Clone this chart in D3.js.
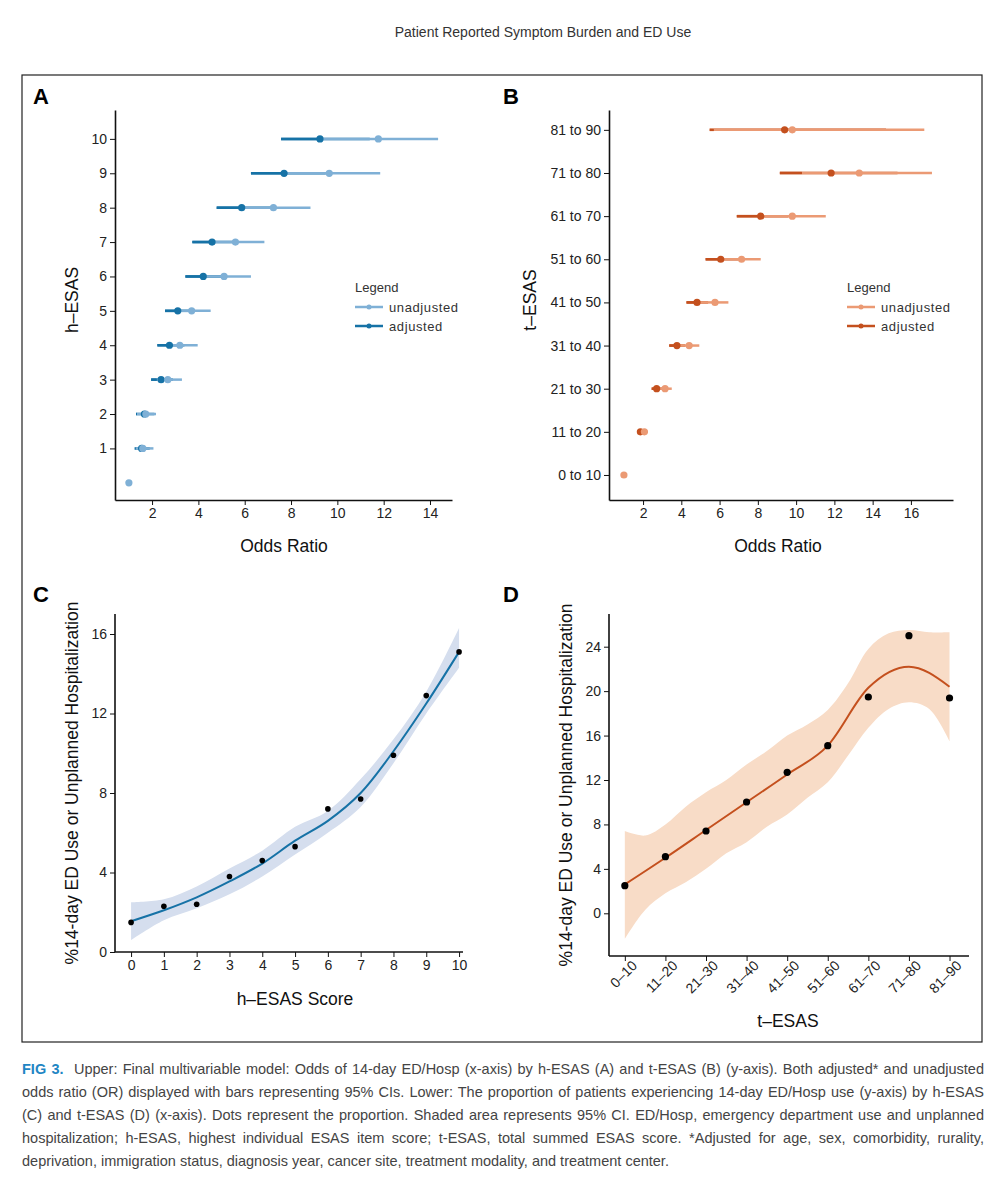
<!DOCTYPE html>
<html><head><meta charset="utf-8">
<script src="https://cdn.jsdelivr.net/npm/d3@7"></script>
<style>
body{margin:0;background:#fff;font-family:"Liberation Sans",Arial,sans-serif;}
#cap{position:absolute;left:22px;top:1058px;width:962px;font-size:14.5px;line-height:23px;color:#444;text-align:justify;}
#cap span.f{color:#1f86c4;font-weight:bold;}
</style></head><body>
<svg id="svg" width="1004" height="1200" style="position:absolute;left:0;top:0"></svg>
<div id="cap"><span class="f">FIG 3.</span>&nbsp; Upper: Final multivariable model: Odds of 14-day ED/Hosp (x-axis) by h-ESAS (A) and t-ESAS (B) (y-axis). Both adjusted* and unadjusted odds ratio (OR) displayed with bars representing 95% CIs. Lower: The proportion of patients experiencing 14-day ED/Hosp use (y-axis) by h-ESAS (C) and t-ESAS (D) (x-axis). Dots represent the proportion. Shaded area represents 95% CI. ED/Hosp, emergency department use and unplanned hospitalization; h-ESAS, highest individual ESAS item score; t-ESAS, total summed ESAS score. *Adjusted for age, sex, comorbidity, rurality, deprivation, immigration status, diagnosis year, cancer site, treatment modality, and treatment center.</div>
<script>
// Panel A data (h-ESAS 0..10; 0 = reference)
const hLevels = [0,1,2,3,4,5,6,7,8,9,10];
const hUnadj   = [1.0,1.6,1.73,2.68,3.2,3.71,5.11,5.6,7.24,9.65,11.77];
const hUnadjLo = [null,1.25,1.35,2.2,2.6,3.1,4.2,4.6,6.0,7.8,9.3];
const hUnadjHi = [null,2.06,2.17,3.29,3.97,4.53,6.27,6.85,8.84,11.85,14.35];
const hAdj     = [null,1.55,1.67,2.39,2.75,3.11,4.21,4.59,5.87,7.7,9.25];
const hAdjLo   = [null,1.3,1.31,1.96,2.23,2.56,3.44,3.74,4.79,6.27,7.57];
const hAdjHi   = [null,1.9,2.1,2.9,3.4,3.8,5.2,5.7,7.3,9.5,11.4];
// Panel B data (t-ESAS groups)
const tGroups = ["0 to 10","11 to 20","21 to 30","31 to 40","41 to 50","51 to 60","61 to 70","71 to 80","81 to 90"];
const tUnadj   = [1.0,2.07,3.15,4.41,5.76,7.15,9.8,13.3,9.8];
const tUnadjLo = [null,1.8,2.7,3.8,4.9,6.1,8.2,10.3,5.48];
const tUnadjHi = [null,2.25,3.5,4.94,6.46,8.15,11.55,17.1,16.7];
const tAdj     = [null,1.86,2.71,3.77,4.82,6.06,8.15,11.83,9.4];
const tAdjLo   = [null,1.7,2.45,3.37,4.27,5.27,6.9,9.15,5.7];
const tAdjHi   = [null,2.05,3.0,4.2,5.4,7.0,9.6,15.3,14.7];
// Panel C data
const cScores = [0,1,2,3,4,5,6,7,8,9,10];
const cProp = [1.49,2.3,2.4,3.8,4.6,5.3,7.2,7.7,9.9,12.9,15.1];
const cFit  = [1.55,2.1,2.75,3.55,4.45,5.6,6.6,8.0,10.1,12.5,15.1];
const cLo   = [0.6,1.6,2.2,2.9,3.8,4.9,6.0,7.3,9.5,12.0,14.3];
const cHi   = [2.5,2.65,3.3,4.2,5.1,6.3,7.1,8.7,10.7,13.1,16.3];
// Panel D data
const dGroups = ["0–10","11–20","21–30","31–40","41–50","51–60","61–70","71–80","81–90"];
const dProp = [2.49,5.1,7.41,10.02,12.69,15.09,19.47,24.99,19.38];
const dFit  = [2.6,5.0,7.5,10.0,12.5,15.1,20.3,22.2,20.4];
const dBandPos = [0,0.5,1,1.5,2,2.5,3,3.5,4,4.5,5,5.5,6,6.5,7,7.5,8];
const dHi = [7.4,7.0,8.0,9.6,10.9,12.0,13.4,14.6,16.0,17.0,18.3,20.7,23.8,25.2,25.5,25.3,25.3];
const dLo = [-2.3,0.3,1.8,2.8,4.0,5.4,6.4,7.8,8.9,10.4,11.8,14.2,16.7,18.4,19.0,18.4,15.5];

const svg = d3.select("#svg");
const F = '"Liberation Sans",Arial,sans-serif';
svg.append("text").attr("x",543).attr("y",37).attr("text-anchor","middle").attr("font-size",14).attr("fill","#333").attr("font-family",F).text("Patient Reported Symptom Burden and ED Use");
svg.append("rect").attr("x",22).attr("y",75).attr("width",960).attr("height",967).attr("fill","none").attr("stroke","#222").attr("stroke-width",1.2);
[["A",33,104],["B",503,104],["C",33,602],["D",503,602]].forEach(([t,x,y])=>svg.append("text").attr("x",x).attr("y",y).attr("font-size",22).attr("font-weight","bold").attr("font-family",F).text(t));

function styleAxis(g){g.selectAll("path").attr("stroke","#111").attr("stroke-width",1.6);g.selectAll("line").attr("stroke","#111");g.selectAll("text").attr("font-size",14).attr("font-family",F).attr("fill","#222");}
function label(x,y,t,rot){const e=svg.append("text").attr("font-size",17.5).attr("font-family",F).attr("text-anchor","middle").attr("fill","#111").text(t);
 if(rot) e.attr("transform",`translate(${x},${y}) rotate(-90)`); else e.attr("x",x).attr("y",y);}

function forest(o){
 const x=d3.scaleLinear().domain(o.xd).range([o.x0,o.x1]);
 const y=d3.scaleLinear().domain(o.yd).range([o.y1,o.y0]);
 const g=svg.append("g");
 g.append("g").attr("transform",`translate(0,${o.y1})`).call(d3.axisBottom(x).tickValues(o.xt).tickSize(5).tickSizeOuter(0)).call(styleAxis);
 g.append("g").attr("transform",`translate(${o.x0},0)`).call(d3.axisLeft(y).tickValues(o.yt).tickFormat(o.yf).tickSize(5).tickSizeOuter(0)).call(styleAxis);
 o.cat.forEach((c,i)=>{
  const yy=y(i);
  if(o.alo[i]!=null) g.append("line").attr("x1",x(o.alo[i])).attr("x2",x(o.ahi[i])).attr("y1",yy).attr("y2",yy).attr("stroke",o.dark).attr("stroke-width",2.5);
  if(o.ulo[i]!=null) g.append("line").attr("x1",x(o.ulo[i])).attr("x2",x(o.uhi[i])).attr("y1",yy).attr("y2",yy).attr("stroke",o.light).attr("stroke-width",2.5);
  if(o.alo[i]!=null) g.append("line").attr("x1",x(o.alo[i])).attr("x2",x(Math.min(o.ahi[i],o.ulo[i]))).attr("y1",yy).attr("y2",yy).attr("stroke",o.dark).attr("stroke-width",2.5);
  if(o.a[i]!=null) g.append("circle").attr("cx",x(o.a[i])).attr("cy",yy).attr("r",3.6).attr("fill",o.dark);
  g.append("circle").attr("cx",x(o.u[i])).attr("cy",yy).attr("r",3.6).attr("fill",o.light);
 });
 const lx=o.lx, ly=288;
 g.append("text").attr("x",lx).attr("y",ly+4).attr("font-size",13).attr("font-family",F).attr("fill","#333").text("Legend");
 [["unadjusted",o.light],["adjusted",o.dark]].forEach(([t,c],k)=>{
  const yy=ly+19+k*19;
  g.append("line").attr("x1",lx).attr("x2",lx+28).attr("y1",yy).attr("y2",yy).attr("stroke",c).attr("stroke-width",2.5);
  g.append("circle").attr("cx",lx+14).attr("cy",yy).attr("r",2.5).attr("fill",c);
  g.append("text").attr("x",lx+34).attr("y",yy+4.5).attr("font-size",13).attr("font-family",F).attr("fill","#333").attr("letter-spacing",0.6).text(t);
 });
}
forest({xd:[0.4,14.95],x0:115,x1:452,yd:[-0.5,10.84],y0:110,y1:500,xt:[2,4,6,8,10,12,14],yt:[1,2,3,4,5,6,7,8,9,10],yf:d=>d,
 cat:hLevels,u:hUnadj,ulo:hUnadjLo,uhi:hUnadjHi,a:hAdj,alo:hAdjLo,ahi:hAdjHi,light:"#7fb0d6",dark:"#1672a6",lx:355});
forest({xd:[0.22,18.2],x0:609,x1:953,yd:[-0.58,8.46],y0:110,y1:500,xt:[2,4,6,8,10,12,14,16],yt:d3.range(9),yf:i=>tGroups[i],
 cat:tGroups,u:tUnadj,ulo:tUnadjLo,uhi:tUnadjHi,a:tAdj,alo:tAdjLo,ahi:tAdjHi,light:"#eb9a74",dark:"#c4501e",lx:847});
label(284,552,"Odds Ratio");label(778,552,"Odds Ratio");
label(78,300,"h–ESAS",true);label(536,300,"t–ESAS",true);

// Panel C
{
 const x=d3.scaleLinear().domain([-0.49,10.12]).range([115,463]);
 const y=d3.scaleLinear().domain([0,16]).range([952,634]);
 const g=svg.append("g");
 g.append("path").datum(cScores).attr("d",d3.area().x(d=>x(d)).y0((d,i)=>y(cLo[i])).y1((d,i)=>y(cHi[i])).curve(d3.curveCatmullRom)).attr("fill","#d5deee");
 g.append("path").datum(cScores).attr("d",d3.line().x(d=>x(d)).y((d,i)=>y(cFit[i])).curve(d3.curveCatmullRom)).attr("fill","none").attr("stroke","#1672a6").attr("stroke-width",2);
 g.selectAll(".p").data(cScores).enter().append("circle").attr("cx",d=>x(d)).attr("cy",(d,i)=>y(cProp[i])).attr("r",2.8).attr("fill","#000");
 const ax=g.append("g").attr("transform","translate(0,952)").call(d3.axisBottom(x).tickValues(cScores).tickSize(5).tickSizeOuter(0)).call(styleAxis);
 ax.select("path.domain").attr("d","M115,0H463");
 const ay=g.append("g").attr("transform","translate(115,0)").call(d3.axisLeft(y).tickValues([0,4,8,12,16]).tickSize(5).tickSizeOuter(0)).call(styleAxis);
 ay.select("path.domain").attr("d","M0,614V952");
 label(295,1005,"h–ESAS Score");label(78,783,"%14-day ED Use or Unplanned Hospitalization",true);
}
// Panel D
{
 const x=d3.scaleLinear().domain([-0.39,8.48]).range([609,969]);
 const y=d3.scaleLinear().domain([0,24]).range([913.3,646.7]);
 const g=svg.append("g");
 g.append("path").datum(dBandPos).attr("d",d3.area().x(d=>x(d)).y0((d,i)=>y(dLo[i])).y1((d,i)=>y(dHi[i])).curve(d3.curveCatmullRom)).attr("fill","#f8dcc7");
 g.append("path").datum(dFit).attr("d",d3.line().x((d,i)=>x(i)).y(d=>y(d)).curve(d3.curveMonotoneX)).attr("fill","none").attr("stroke","#c4501e").attr("stroke-width",2);
 g.selectAll(".p").data(dProp).enter().append("circle").attr("cx",(d,i)=>x(i)).attr("cy",d=>y(d)).attr("r",3.6).attr("fill","#000");
 const ax=g.append("g").attr("transform","translate(0,956)").call(d3.axisBottom(x).tickValues(d3.range(9)).tickFormat(i=>dGroups[i]).tickSize(5).tickSizeOuter(0)).call(styleAxis);
 ax.select("path.domain").attr("d","M609,0H969");
 ax.selectAll("text").attr("text-anchor","end").attr("dx","0.1em").attr("dy","0.6em").attr("transform","rotate(-45)");
 g.append("g").attr("transform","translate(609,0)").call(d3.axisLeft(y).tickValues([0,4,8,12,16,20,24]).tickSize(5).tickSizeOuter(0)).call(styleAxis).select("path.domain").attr("d","M0,614V956");
 label(788,1027,"t–ESAS");label(572,785,"%14-day ED Use or Unplanned Hospitalization",true);
}
</script></body></html>
